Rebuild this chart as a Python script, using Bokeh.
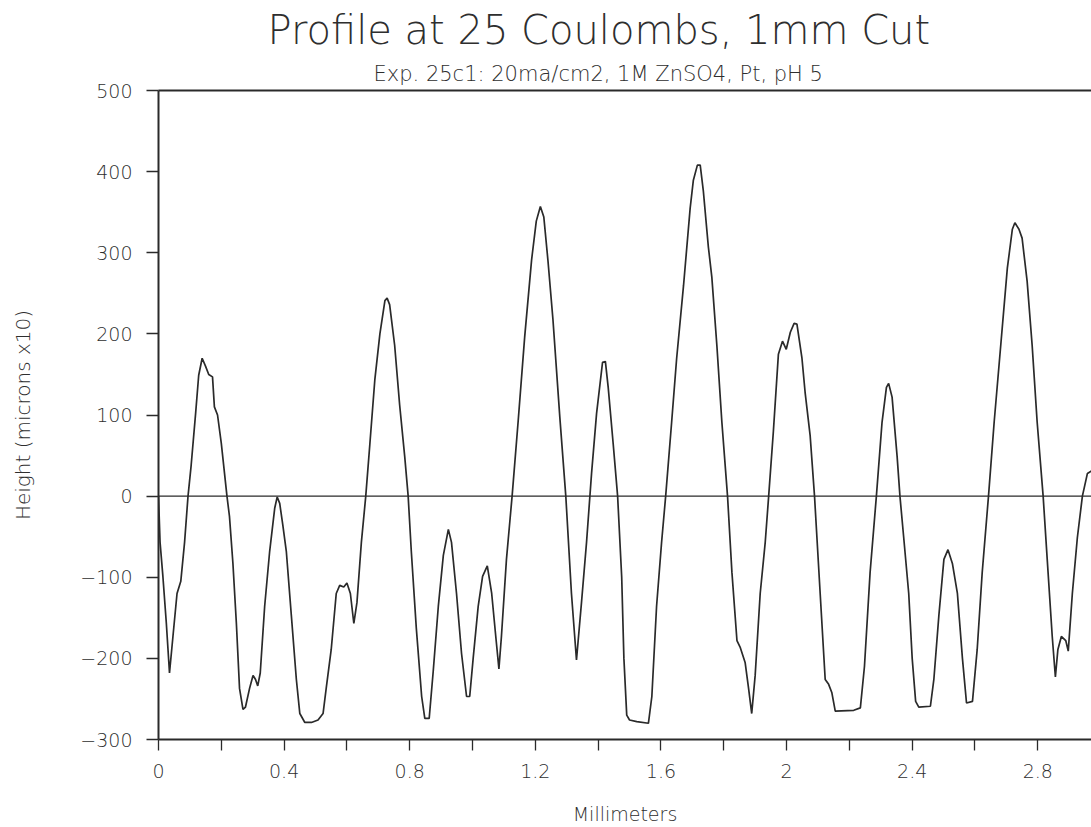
from bokeh.plotting import figure
from bokeh.models import (Range1d, FixedTicker, LinearAxis, Span, CustomJSTickFormatter, Title)
from bokeh.embed import file_html
from bokeh.resources import INLINE

title_text = "Profile at 25 Coulombs, 1mm Cut"
subtitle_text = "Exp. 25c1: 20ma/cm2, 1M ZnSO4, Pt, pH 5"
x_label = "Millimeters"
y_label = "Height (microns x10)"

x_ticks = [0, 0.4, 0.8, 1.2, 1.6, 2, 2.4, 2.8]
x_minor = [0.2, 0.6, 1.0, 1.4, 1.8, 2.2, 2.6]
y_ticks = [-300, -200, -100, 0, 100, 200, 300, 400, 500]

mm = [0.000, 0.005, 0.014, 0.025, 0.035, 0.046, 0.059, 0.071, 0.083, 0.094,
      0.104, 0.118, 0.128, 0.139, 0.150, 0.160, 0.172, 0.178, 0.188, 0.200,
      0.218, 0.226, 0.237, 0.248, 0.258, 0.269, 0.277, 0.290, 0.301, 0.309,
      0.316, 0.324, 0.338, 0.354, 0.370, 0.378, 0.386, 0.396, 0.407, 0.423,
      0.439, 0.450, 0.466, 0.487, 0.508, 0.524, 0.534, 0.550, 0.566, 0.577,
      0.590, 0.600, 0.611, 0.622, 0.632, 0.646, 0.660, 0.673, 0.689, 0.705,
      0.721, 0.728, 0.736, 0.752, 0.768, 0.784, 0.795, 0.805, 0.821, 0.838,
      0.848, 0.862, 0.875, 0.891, 0.907, 0.923, 0.933, 0.949, 0.965, 0.981,
      0.991, 1.002, 1.018, 1.032, 1.047, 1.061, 1.074, 1.084, 1.092, 1.108,
      1.126, 1.145, 1.166, 1.188, 1.203, 1.216, 1.227, 1.240, 1.256, 1.278,
      1.297, 1.315, 1.331, 1.347, 1.363, 1.379, 1.395, 1.414, 1.423, 1.432,
      1.448, 1.462, 1.475, 1.482, 1.491, 1.500, 1.523, 1.560, 1.571, 1.586,
      1.602, 1.615, 1.634, 1.650, 1.672, 1.693, 1.703, 1.716, 1.725, 1.735,
      1.751, 1.762, 1.778, 1.794, 1.812, 1.826, 1.842, 1.852, 1.868, 1.879,
      1.889, 1.900, 1.916, 1.932, 1.943, 1.958, 1.974, 1.987, 1.999, 2.012,
      2.024, 2.033, 2.049, 2.059, 2.075, 2.089, 2.107, 2.123, 2.134, 2.144,
      2.155, 2.214, 2.235, 2.248, 2.266, 2.286, 2.304, 2.318, 2.325, 2.336,
      2.352, 2.361, 2.373, 2.389, 2.400, 2.411, 2.421, 2.458, 2.469, 2.485,
      2.501, 2.514, 2.528, 2.544, 2.560, 2.573, 2.592, 2.607, 2.623, 2.643,
      2.661, 2.682, 2.703, 2.719, 2.727, 2.740, 2.750, 2.766, 2.782, 2.798,
      2.817, 2.830, 2.846, 2.856, 2.864, 2.875, 2.889, 2.897, 2.910, 2.926,
      2.942, 2.958, 2.971]

height = [0, -57, -99, -157, -218, -173, -120, -105, -57, 0,
          38, 101, 149, 170, 160, 150, 147, 110, 100, 65,
          0, -25, -83, -157, -237, -263, -260, -237, -221, -226,
          -234, -218, -136, -68, -15, -1, -9, -36, -68, -147,
          -226, -268, -279, -279, -276, -268, -237, -189, -120, -110,
          -112, -107, -120, -157, -131, -57, 0, 64, 144, 200,
          241, 244, 236, 186, 112, 49, 0, -68, -163, -247,
          -274, -274, -215, -136, -73, -41, -57, -120, -194, -247,
          -247, -200, -136, -99, -86, -120, -173, -213, -173, -78,
          0, 91, 196, 291, 339, 357, 344, 291, 218, 97,
          0, -120, -202, -131, -57, 28, 102, 165, 166, 134,
          64, 0, -100, -200, -270, -276, -278, -280, -247, -136,
          -57, 0, 91, 170, 260, 355, 389, 408, 408, 376,
          307, 270, 186, 91, 0, -94, -178, -186, -205, -237,
          -268, -221, -120, -57, 0, 80, 175, 191, 181, 202,
          213, 212, 170, 128, 75, 0, -120, -226, -232, -242,
          -265, -264, -261, -210, -94, 0, 91, 134, 139, 122,
          49, 0, -51, -120, -200, -253, -260, -259, -226, -147,
          -78, -66, -83, -120, -200, -255, -253, -189, -94, 0,
          91, 186, 281, 329, 337, 329, 318, 265, 186, 91,
          0, -78, -173, -223, -189, -173, -178, -191, -120, -51,
          0, 28, 31]

FONT = "DejaVu Sans ExtraLight, DejaVu Sans Light, DejaVu Sans"
INK = "#2a2a2a"
TXT = "#2e2e2e"

p = figure(width=1091, height=827, output_backend="svg", toolbar_location=None,
           x_range=Range1d(0, 2.971), y_range=Range1d(-300, 500),
           min_border_left=158, min_border_right=0, min_border_top=90,
           min_border_bottom=88)

p.grid.visible = False
p.outline_line_color = None
p.background_fill_color = "white"
p.border_fill_color = "white"

# top frame line as an unlabeled axis (added first so it sits against the frame)
top_axis = LinearAxis(major_tick_line_color=None, minor_tick_line_color=None,
                      major_label_text_font_size="0px", axis_line_color=INK,
                      axis_line_width=2, major_label_standoff=0)
top_axis.ticker = FixedTicker(ticks=[])
p.add_layout(top_axis, "above")

p.add_layout(Title(text=subtitle_text, align="left", offset=215, text_font=FONT,
                   text_font_size="21px", text_font_style="normal",
                   text_color=TXT, standoff=9), "above")

p.title.text = title_text
p.title.align = "left"
p.title.offset = 109
p.title.text_font = FONT
p.title.text_font_size = "40px"
p.title.text_font_style = "normal"
p.title.text_color = TXT
p.title.standoff = 6

p.line(mm, height, line_color=INK, line_width=1.7)
p.add_layout(Span(location=0, dimension="width", line_color=INK, line_width=1.4))

xa = p.below[0]
xa.ticker = FixedTicker(ticks=x_ticks, minor_ticks=x_minor)
xa.formatter = CustomJSTickFormatter(code="return tick.toString()")
xa.axis_label = x_label
xa.axis_label_text_font = FONT
xa.axis_label_text_font_size = "19px"
xa.axis_label_text_font_style = "normal"
xa.axis_label_text_color = TXT
xa.axis_label_standoff = 22
xa.major_label_text_font = FONT
xa.major_label_text_font_size = "19px"
xa.major_label_text_color = TXT
xa.major_label_standoff = 13
xa.major_tick_in = 0
xa.major_tick_out = 11
xa.minor_tick_in = 0
xa.minor_tick_out = 11
xa.major_tick_line_color = INK
xa.minor_tick_line_color = INK
xa.major_tick_line_width = 1.3
xa.minor_tick_line_width = 1.3
xa.axis_line_color = INK
xa.axis_line_width = 2

ya = p.left[0]
ya.ticker = FixedTicker(ticks=y_ticks)
ya.axis_label = y_label
ya.axis_label_text_font = FONT
ya.axis_label_text_font_size = "20px"
ya.axis_label_text_font_style = "normal"
ya.axis_label_text_color = TXT
ya.axis_label_standoff = 42
ya.major_label_text_font = FONT
ya.major_label_text_font_size = "19px"
ya.major_label_text_color = TXT
ya.major_label_standoff = 14
ya.major_tick_in = 0
ya.major_tick_out = 12
ya.minor_tick_line_color = None
ya.major_tick_line_color = INK
ya.major_tick_line_width = 1.3
ya.axis_line_color = INK
ya.axis_line_width = 2

open("out.html", "w").write(file_html(p, INLINE))
